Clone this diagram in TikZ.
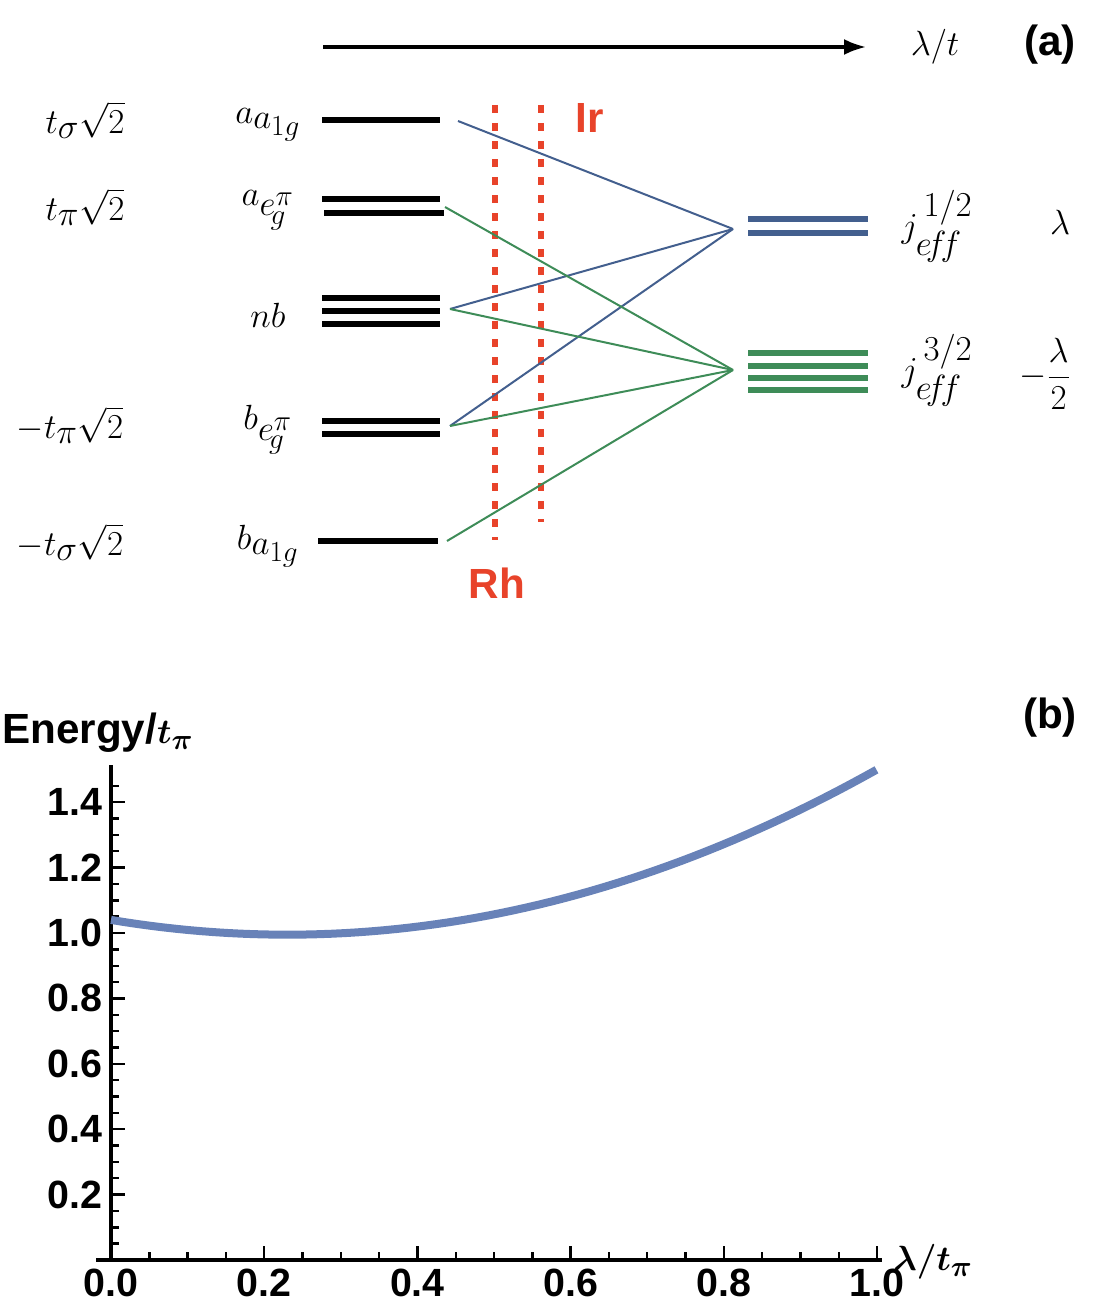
\documentclass[tikz,border=0pt]{standalone}
\usepackage{amsmath}
\usepackage{fontspec}
\setmainfont{Liberation Sans}
\usetikzlibrary{positioning,calc,arrows.meta}
\definecolor{levelblue}{HTML}{435F8E}
\definecolor{levelgreen}{HTML}{3E8C58}
\definecolor{rhred}{HTML}{E8432A}
\definecolor{curveblue}{HTML}{6882B8}
\tikzset{
  level/.style={line width=0.15cm},
  link/.style={line width=0.05cm},
  metal/.style={rhred,line width=0.15cm,dash pattern=on 0.2cm off 0.25cm},
  mlabel/.style={font=\fontsize{40}{46}\selectfont,inner sep=0pt},
  blabel/.style={font=\fontsize{30}{36}\selectfont\bfseries,inner sep=0pt},
  ticklabel/.style={font=\fontsize{28}{32}\selectfont\bfseries,inner sep=0pt}
}
\begin{document}
\begin{tikzpicture}[x=0.025cm,y=-0.025cm]
    \useasboundingbox (0,0) rectangle (1092,1312);

    % Panel (a): arrow and tags
    \draw[line width=0.08cm,-{Latex[length=0.55cm,width=0.4cm]}] (323,47) -- (866,47);
    \node[mlabel] (lamt) at (935,47) {$\lambda/t$};
    \node[blabel] (taga) at (1050,45) {(a)};

    % Left levels
    \draw[level] (322,120) -- (440,120);
    \draw[level] (322,199) -- (440,199);
    \draw[level] (324,213) -- (444,213);
    \foreach \y in {298,311,324} \draw[level] (322,\y) -- (440,\y);
    \foreach \y in {421,434} \draw[level] (322,\y) -- (440,\y);
    \draw[level] (318,541) -- (438,541);

    % Right levels
    \foreach \y in {219,233} \draw[level,levelblue] (748,\y) -- (868,\y);
    \foreach \y in {353,366,378,390} \draw[level,levelgreen] (748,\y) -- (868,\y);

    % Energy and orbital labels
    \node[mlabel] (esa) at (85,120) {$t_\sigma\sqrt{2}$};
    \node[mlabel] (epa) at (85,207) {$t_\pi\sqrt{2}$};
    \node[mlabel] (epb) at (70,425) {$-t_\pi\sqrt{2}$};
    \node[mlabel] (esb) at (70,542) {$-t_\sigma\sqrt{2}$};
    \node[mlabel] (oa1) at (268,125) {$a_{a_{1g}}$};
    \node[mlabel] (oae) at (268,210) {$a_{e_{\!g}^{\pi}}$};
    \node[mlabel] (onb) at (268,315) {$nb$};
    \node[mlabel] (obe) at (268,430) {$b_{e_{\!g}^{\pi}}$};
    \node[mlabel] (oba) at (268,546) {$b_{a_{1g}}$};
    \node[mlabel] (jhl) at (937,226) {$j_{e\!f\!f}^{\,1/2}$};
    \node[mlabel] (jtl) at (937,370) {$j_{e\!f\!f}^{\,3/2}$};
    \node[mlabel] (elam) at (1060,222) {$\lambda$};
    \node[mlabel] (ehalf) at (1045,374) {$-\dfrac{\lambda}{2}$};

    % Metal lines
    \draw[metal] (495,105) -- (495,540);
    \draw[metal] (541,105) -- (541,522);
    \node[blabel,rhred] (irl) at (590,118) {Ir};
    \node[blabel,rhred] (rhl) at (497,583) {Rh};

    % Connectors
    \coordinate (aa1) at (458,121);
    \coordinate (aeg) at (445,207);
    \coordinate (nbr) at (450,309);
    \coordinate (beg) at (450,426);
    \coordinate (ba1) at (447,541);
    \coordinate (jhalf) at (733,229);
    \coordinate (jthree) at (733,370);
    \foreach \s in {aa1,nbr,beg} \draw[link,levelblue] (\s) -- (jhalf);
    \foreach \s in {aeg,nbr,beg,ba1} \draw[link,levelgreen] (\s) -- (jthree);

    % Panel (b): axes
    \node[blabel] (tagb) at (1050,718) {(b)};
    \node[blabel,anchor=west] (ylab) at (2,733) {Energy/$\boldsymbol{t_\pi}$};
    \draw[line width=0.09cm] (111,765) -- (111,1260);
    \draw[line width=0.09cm] (96,1260) -- (882,1260);
    \foreach \k in {1,...,29} \draw[line width=0.06cm] (111,{1260-16.35*\k}) -- ++(8,0);
    \foreach \k/\t in {1/0.2,2/0.4,3/0.6,4/0.8,5/1.0,6/1.2,7/1.4} {
      \draw[line width=0.06cm] (111,{1260-65.4*\k}) -- ++(14,0);
      \node[ticklabel,anchor=east] at (103,{1260-65.4*\k}) {\t};
    }
    \foreach \k in {1,...,20} \draw[line width=0.06cm] ({111+38.3*\k},1260) -- ++(0,-8);
    \foreach \k/\t in {0/0.0,1/0.2,2/0.4,3/0.6,4/0.8,5/1.0} {
      \draw[line width=0.06cm] ({111+153.2*\k},1260) -- ++(0,-14);
      \node[ticklabel] at ({111+153.2*\k},1283) {\t};
    }
    \node[blabel,anchor=west] (xlab) at (893,1262) {$\boldsymbol{\lambda/t_\pi}$};

    % Curve
    \draw[curveblue,line width=0.2cm] plot[domain=0:1,samples=60]
      ({111+766*\x},{1260-327*(1.04-0.392*\x+0.852*\x*\x)});
\end{tikzpicture}
\end{document}
